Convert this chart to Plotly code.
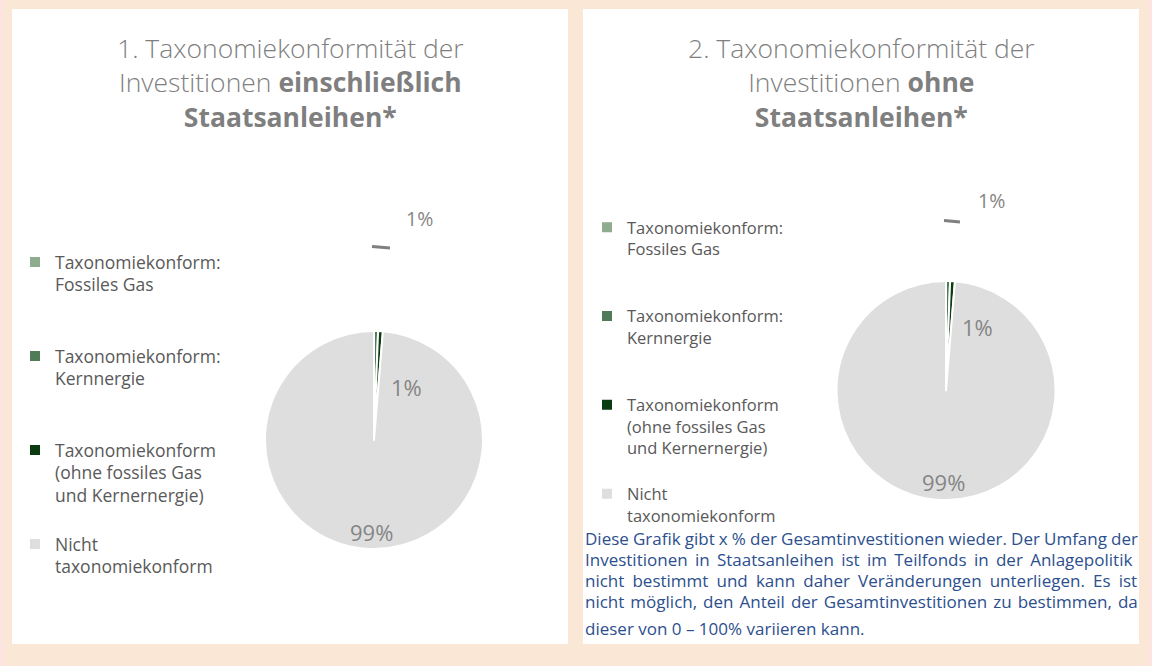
import plotly.graph_objects as go

W, H = 1152, 666

# ---------------- data ----------------
categories = [
    "Taxonomiekonform:<br>Fossiles Gas",
    "Taxonomiekonform:<br>Kernnergie",
    "Taxonomiekonform<br>(ohne fossiles Gas<br>und Kernernergie)",
    "Nicht<br>taxonomiekonform",
]
values_incl = [0.0, 0.6, 0.7, 98.7]   # 1. incl. Staatsanleihen
values_excl = [0.0, 0.6, 0.7, 98.7]   # 2. ohne Staatsanleihen
slice_colors = ["#8fab90", "#4f7b58", "#0b3b10", "#dedede"]

title_1 = "1. Taxonomiekonformität der<br>Investitionen <b>einschließlich</b><br><b>Staatsanleihen*</b>"
title_2 = "2. Taxonomiekonformität der<br>Investitionen <b>ohne</b><br><b>Staatsanleihen*</b>"
footnote_lines = [
    "Diese Grafik gibt x % der Gesamtinvestitionen wieder. Der Umfang der",
    "Investitionen in Staatsanleihen ist im Teilfonds in der Anlagepolitik",
    "nicht bestimmt und kann daher Veränderungen unterliegen. Es ist",
    "nicht möglich, den Anteil der Gesamtinvestitionen zu bestimmen, da",
    "dieser von 0 – 100% variieren kann.",
]

# ---------------- helpers ----------------
def px(x):
    return x / W

def py(y):
    return 1 - y / H

FONT = "Open Sans"
GRAY = "#7f7f7f"
PEACH = "#fbe7d6"

# legend labels padded to equal height (4 lines each), last one left as is
def pad(lbl, n=4):
    k = lbl.count("<br>") + 1
    return lbl + "<br>\u00a0" * (n - k)

def legend_labels(suffix=""):
    out = []
    for i, c in enumerate(categories):
        out.append((pad(c) if i < len(categories) - 1 else c) + suffix)
    return out

fig = go.Figure()

# pie domains (pixel boxes)
dom1 = dict(x=[px(265), px(483)], y=[py(549), py(331)])
dom2 = dict(x=[px(836), px(1056)], y=[py(500), py(281)])

for vals, dom, leg, suffix in [(values_incl, dom1, "legend", ""),
                               (values_excl, dom2, "legend2", "\u200b")]:
    fig.add_trace(go.Pie(
        labels=legend_labels(suffix),
        values=vals,
        sort=False,
        direction="clockwise",
        rotation=0,
        marker=dict(colors=slice_colors, line=dict(color="white", width=2)),
        textinfo="none",
        hoverinfo="percent",
        domain=dom,
        legend=leg,
        showlegend=True,
    ))

shapes = [
    dict(type="rect", xref="paper", yref="paper", x0=px(12), x1=px(568), y0=py(644), y1=py(9),
         fillcolor="white", line=dict(width=0), layer="below"),
    dict(type="rect", xref="paper", yref="paper", x0=px(583), x1=px(1139), y0=py(644), y1=py(9),
         fillcolor="white", line=dict(width=0), layer="below"),
    dict(type="rect", xref="paper", yref="paper", x0=0, x1=px(3), y0=0, y1=1,
         fillcolor="#fde3e1", line=dict(width=0), layer="below"),
    dict(type="rect", xref="paper", yref="paper", x0=px(1149), x1=1, y0=0, y1=1,
         fillcolor="#fde3e1", line=dict(width=0), layer="below"),
    # leader dashes for the outside labels
    dict(type="line", xref="paper", yref="paper", x0=px(372), y0=py(246.5), x1=px(390), y1=py(248),
         line=dict(color="#7f7f7f", width=3)),
    dict(type="line", xref="paper", yref="paper", x0=px(944), y0=py(220.5), x1=px(960), y1=py(222),
         line=dict(color="#7f7f7f", width=3)),
]

annotations = [
    dict(text=title_1, x=px(290), y=py(82.5), xref="paper", yref="paper", showarrow=False,
         xanchor="center", yanchor="middle", align="center",
         font=dict(family=FONT, size=26.5, color=GRAY, weight=300)),
    dict(text=title_2, x=px(861), y=py(82.5), xref="paper", yref="paper", showarrow=False,
         xanchor="center", yanchor="middle", align="center",
         font=dict(family=FONT, size=26.5, color=GRAY, weight=300)),
]

# footnote, justified via word spacing
foot_y = [538, 559, 580, 601, 628]
foot_ws = [-0.3, 2.9, 3.7, 1.6, 0]
for line, y, ws in zip(footnote_lines, foot_y, foot_ws):
    txt = f'<span style="word-spacing:{ws}px">{line}</span>' if ws else line
    annotations.append(dict(text=txt, x=px(583), y=py(y), xref="paper", yref="paper",
                            showarrow=False, xanchor="left", yanchor="middle", align="left",
                            font=dict(family=FONT, size=17, color="#2c4f8e")))

# data labels (percent computed from values)
label_pos_1 = {1: (419, 219, 19.5), 2: (406, 387, 22), 3: (371, 532, 22)}
label_pos_2 = {1: (991, 200, 19.5), 2: (977, 327, 22), 3: (943, 482, 22)}
for vals, pos in [(values_incl, label_pos_1), (values_excl, label_pos_2)]:
    tot = sum(vals)
    for i, (x, y, s) in pos.items():
        annotations.append(dict(
            text=f"{round(vals[i] / tot * 100)}%", x=px(x), y=py(y), xref="paper", yref="paper",
            showarrow=False, xanchor="center", yanchor="middle",
            font=dict(family=FONT, size=s, color="#858585")))

legend_common = dict(
    xanchor="left", yanchor="top", valign="top", bgcolor="rgba(0,0,0,0)",
    tracegroupgap=0, itemclick=False, itemdoubleclick=False,
)

fig.update_layout(
    width=W, height=H,
    margin=dict(l=0, r=0, t=0, b=0),
    paper_bgcolor=PEACH, plot_bgcolor=PEACH,
    shapes=shapes, annotations=annotations,
    legend=dict(x=px(15), y=py(244), font=dict(family=FONT, size=17.5, color="#595959"),
                **legend_common),
    legend2=dict(x=px(587), y=py(210), font=dict(family=FONT, size=16.5, color="#595959"),
                 **legend_common),
)

fig.write_html("out.html", config={"displayModeBar": False},
               post_script="document.body.style.margin='0';")
